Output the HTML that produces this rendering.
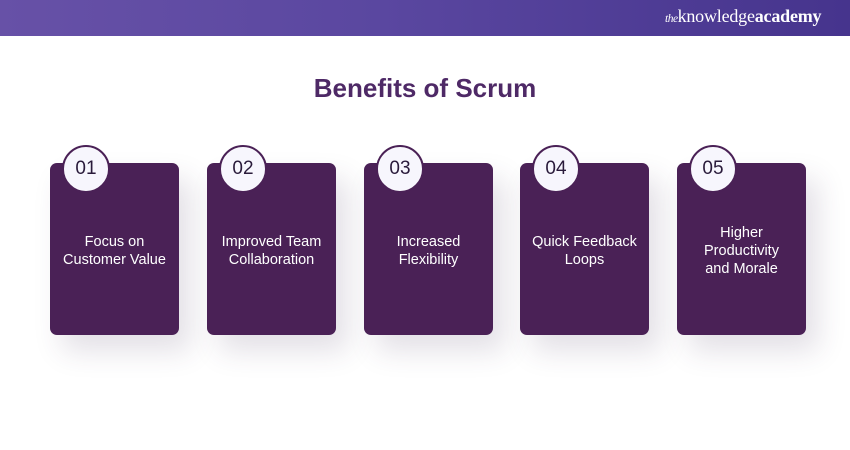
<!DOCTYPE html>
<html>
<head>
<meta charset="utf-8">
<style>
  html,body{margin:0;padding:0;}
  body{width:850px;height:450px;position:relative;overflow:hidden;background:#ffffff;font-family:"Liberation Sans",sans-serif;}
  .header{position:absolute;left:0;top:0;width:850px;height:36px;background:linear-gradient(90deg,#6751a7 0%,#5a47a0 45%,#46348d 100%);}
  .logo{position:absolute;left:665px;top:6px;font-family:"Liberation Serif",serif;color:#fff;font-size:18px;letter-spacing:-0.2px;white-space:nowrap;}
  .logo i{font-size:11.5px;letter-spacing:-0.5px;}
  .logo b{font-weight:bold;}
  .title{position:absolute;left:0;width:850px;top:73px;text-align:center;font-weight:bold;font-size:26px;color:#4e2966;}
  .card{position:absolute;top:163px;width:129px;height:172px;background:#4a2156;border-radius:7px;box-shadow:12px 16px 28px rgba(70,50,90,0.15);}
  .circle{position:absolute;top:145px;width:44px;height:44px;border-radius:50%;background:#f7f6fd;border:2px solid #4a2156;text-align:center;line-height:44px;font-size:19px;color:#2a1b3b;}
  .circle::after{content:"";position:absolute;left:1px;top:1px;right:1px;bottom:1px;border-radius:50%;box-shadow:0 0 0 1px rgba(255,255,255,0.25);}
  .txt{position:absolute;left:0;right:0;top:3px;bottom:0;display:flex;align-items:center;justify-content:center;text-align:center;color:#fff;font-size:14.5px;line-height:18px;padding:0 4px;}
</style>
</head>
<body>
  <div class="header"></div>
  <div class="logo"><i>the</i>knowledge<b>academy</b></div>
  <div class="title">Benefits of Scrum</div>

  <div class="card" style="left:50px;"><div class="txt">Focus on<br>Customer Value</div></div>
  <div class="card" style="left:207px;"><div class="txt">Improved Team<br>Collaboration</div></div>
  <div class="card" style="left:364px;"><div class="txt">Increased<br>Flexibility</div></div>
  <div class="card" style="left:520px;"><div class="txt">Quick Feedback<br>Loops</div></div>
  <div class="card" style="left:677px;"><div class="txt">Higher<br>Productivity<br>and Morale</div></div>

  <div class="circle" style="left:62px;">01</div>
  <div class="circle" style="left:219px;">02</div>
  <div class="circle" style="left:376px;">03</div>
  <div class="circle" style="left:532px;">04</div>
  <div class="circle" style="left:689px;">05</div>
</body>
</html>
